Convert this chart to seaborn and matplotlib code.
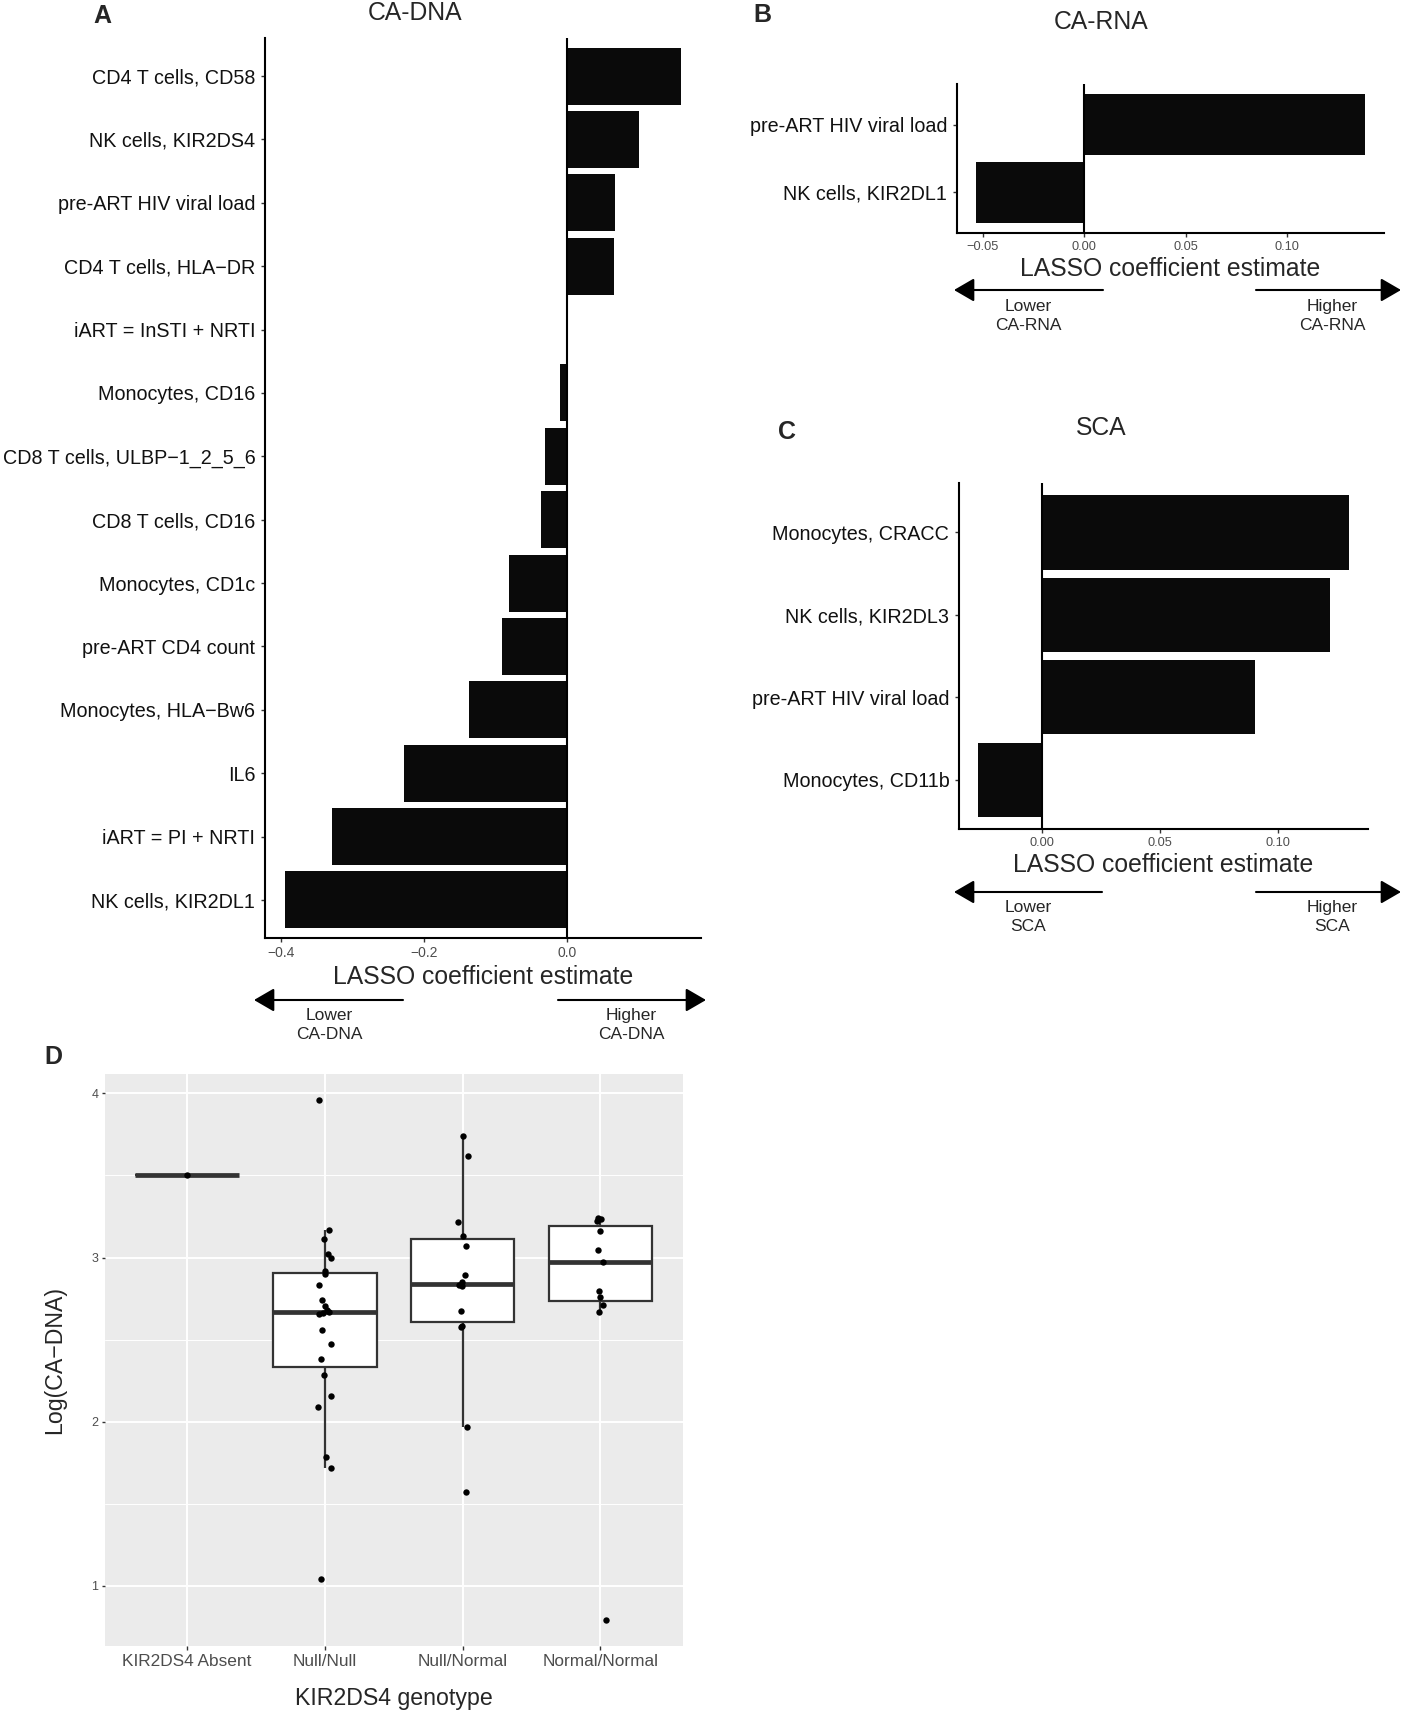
import numpy as np
import pandas as pd
import matplotlib.pyplot as plt
from matplotlib.patches import FancyArrowPatch
import seaborn as sns

# A: CA-DNA LASSO coefficients
dna_features = ['CD4 T cells, CD58', 'NK cells, KIR2DS4', 'pre-ART HIV viral load',
                'CD4 T cells, HLA\u2212DR', 'iART = InSTI + NRTI', 'Monocytes, CD16',
                'CD8 T cells, ULBP\u22121_2_5_6', 'CD8 T cells, CD16', 'Monocytes, CD1c',
                'pre-ART CD4 count', 'Monocytes, HLA\u2212Bw6', 'IL6', 'iART = PI + NRTI',
                'NK cells, KIR2DL1']
dna_coef = [0.159, 0.100, 0.067, 0.065, 0.0, -0.011, -0.032, -0.037, -0.081,
            -0.091, -0.137, -0.228, -0.329, -0.395]

# B: CA-RNA
rna_features = ['pre-ART HIV viral load', 'NK cells, KIR2DL1']
rna_coef = [0.138, -0.053]

# C: SCA
sca_features = ['Monocytes, CRACC', 'NK cells, KIR2DL3', 'pre-ART HIV viral load',
                'Monocytes, CD11b']
sca_coef = [0.130, 0.122, 0.090, -0.027]

# D: log(CA-DNA) by KIR2DS4 genotype
genotypes = ['KIR2DS4 Absent', 'Null/Null', 'Null/Normal', 'Normal/Normal']
absent_vals = [3.50]
null_null_vals = [3.96, 3.166, 3.111, 3.024, 2.996, 2.915, 2.899, 2.83, 2.743, 2.707,
                  2.683, 2.667, 2.66, 2.655, 2.561, 2.475, 2.384, 2.282, 2.155, 2.091,
                  1.784, 1.718, 1.04]
null_normal_vals = [3.74, 3.616, 3.219, 3.129, 3.073, 2.896, 2.853, 2.830, 2.827,
                    2.676, 2.584, 2.578, 1.969, 1.569]
normal_normal_vals = [3.242, 3.232, 3.222, 3.161, 3.046, 2.973, 2.794, 2.758, 2.711,
                      2.67, 0.791]

W, H = 1403, 1711
sns.set_theme(style='white')
plt.rcParams['font.family'] = ['Liberation Sans', 'DejaVu Sans']

fig = plt.figure(figsize=(W / 100, H / 100), dpi=100)


def place(left, top, right, bottom):
    return fig.add_axes([left / W, 1 - bottom / H, (right - left) / W, (bottom - top) / H])


def ftext(x, y, s, **kw):
    kw.setdefault('ha', 'center')
    kw.setdefault('va', 'center')
    fig.text(x / W, 1 - y / H, s, **kw)


def arrow(x0, x1, y):
    fig.add_artist(FancyArrowPatch((x0 / W, 1 - y / H), (x1 / W, 1 - y / H),
                                   transform=fig.transFigure,
                                   arrowstyle='-|>,head_length=0.62,head_width=0.36',
                                   mutation_scale=20, lw=1.5, color='black',
                                   shrinkA=0, shrinkB=0))


def coef_panel(ax, features, coefs, ticks, ticklabels, ticksize):
    df = pd.DataFrame({'feature': features, 'coef': coefs})
    sns.barplot(data=df, x='coef', y='feature', orient='h', color='#0a0a0a',
                saturation=1, width=0.9, edgecolor='none', ax=ax)
    lo, hi = min(min(coefs), 0), max(max(coefs), 0)
    pad = 0.05 * (hi - lo)
    ax.set_xlim(lo - pad, hi + pad)
    n = len(features)
    ax.set_ylim(n - 0.4, -0.6)
    ax.axvline(0, color='black', lw=1.5)
    for side in ['top', 'right']:
        ax.spines[side].set_visible(False)
    for side in ['left', 'bottom']:
        ax.spines[side].set_linewidth(1.5)
        ax.spines[side].set_color('black')
    ax.set_xticks(ticks)
    ax.set_xticklabels(ticklabels)
    ax.tick_params(axis='y', labelsize=14.2, labelcolor='#111111', length=3,
                   width=1, color='#333333', pad=4, left=True)
    ax.tick_params(axis='x', labelsize=ticksize, labelcolor='#4d4d4d', length=3,
                   width=1, color='#333333', pad=3, bottom=True)
    ax.set_ylabel('')
    ax.set_xlabel('LASSO coefficient estimate', fontsize=17.8, labelpad=3)


# panel A
ax_a = place(265, 38, 701, 938)
coef_panel(ax_a, dna_features, dna_coef, [-0.4, -0.2, 0.0],
           ['\u22120.4', '\u22120.2', '0.0'], 10)
ftext(415, 13, 'CA-DNA', fontsize=17.8)
ftext(102, 16, 'A', fontsize=18, fontweight='bold')
arrow(403, 254, 1000)
arrow(558, 706, 1000)
ftext(329, 1025, 'Lower\nCA-DNA', fontsize=12.5, linespacing=1.38)
ftext(631, 1025, 'Higher\nCA-DNA', fontsize=12.5, linespacing=1.38)

# panel B
ax_b = place(957, 84, 1384, 233)
coef_panel(ax_b, rna_features, rna_coef, [-0.05, 0.0, 0.05, 0.10],
           ['\u22120.05', '0.00', '0.05', '0.10'], 9.2)
ftext(1101, 22, 'CA-RNA', fontsize=17.8)
ftext(762, 15, 'B', fontsize=18, fontweight='bold')
arrow(1103, 954, 290)
arrow(1256, 1401, 290)
ftext(1028, 316, 'Lower\nCA-RNA', fontsize=12.5, linespacing=1.38)
ftext(1332, 316, 'Higher\nCA-RNA', fontsize=12.5, linespacing=1.38)

# panel C
ax_c = place(959, 483, 1368, 829)
coef_panel(ax_c, sca_features, sca_coef, [0.0, 0.05, 0.10],
           ['0.00', '0.05', '0.10'], 9.2)
ftext(1101, 428, 'SCA', fontsize=17.8)
ftext(787, 432, 'C', fontsize=18, fontweight='bold')
arrow(1102, 954, 892)
arrow(1256, 1401, 892)
ftext(1028, 917, 'Lower\nSCA', fontsize=12.5, linespacing=1.38)
ftext(1332, 917, 'Higher\nSCA', fontsize=12.5, linespacing=1.38)

# panel D
groups = [absent_vals, null_null_vals, null_normal_vals, normal_normal_vals]
df_d = pd.DataFrame({
    'genotype': [g for g, vals in zip(genotypes, groups) for _ in vals],
    'value': [v for vals in groups for v in vals],
})
ax_d = place(104.5, 1074, 683, 1646)
ax_d.set_facecolor('#ebebeb')
sns.boxplot(data=df_d, x='genotype', y='value', order=genotypes, width=0.75,
            showfliers=False, showcaps=False, color='white', saturation=1,
            linecolor='#333333', linewidth=1.6,
            medianprops={'linewidth': 3.4, 'color': '#333333'}, ax=ax_d, zorder=2)
np.random.seed(7)
sns.stripplot(data=df_d, x='genotype', y='value', order=genotypes, color='black',
              size=4.6, jitter=0.05, ax=ax_d, zorder=3)
vmin, vmax = df_d['value'].min(), df_d['value'].max()
vpad = 0.05 * (vmax - vmin)
ax_d.set_ylim(vmin - vpad, vmax + vpad)
ax_d.set_xlim(-0.6, len(genotypes) - 0.4)
ax_d.set_yticks([1, 2, 3, 4])
ax_d.set_yticks([1.5, 2.5, 3.5], minor=True)
ax_d.set_axisbelow(True)
ax_d.grid(True, which='major', color='white', lw=1.4)
ax_d.grid(True, which='minor', axis='y', color='white', lw=0.7)
for side in ax_d.spines:
    ax_d.spines[side].set_visible(False)
ax_d.tick_params(axis='x', labelsize=12.4, labelcolor='#4d4d4d', length=3,
                 width=1, color='#333333', pad=3, bottom=True)
ax_d.tick_params(axis='y', labelsize=9, labelcolor='#4d4d4d', length=2.5,
                 width=1, color='#333333', pad=2, left=True)
ax_d.tick_params(which='minor', length=0)
ax_d.set_xlabel('KIR2DS4 genotype', fontsize=16.7, labelpad=13)
ax_d.set_ylabel('Log(CA\u2212DNA)', fontsize=16.7, labelpad=18)
ftext(53.5, 1057, 'D', fontsize=18, fontweight='bold')

fig.savefig('out.png', dpi=100)
